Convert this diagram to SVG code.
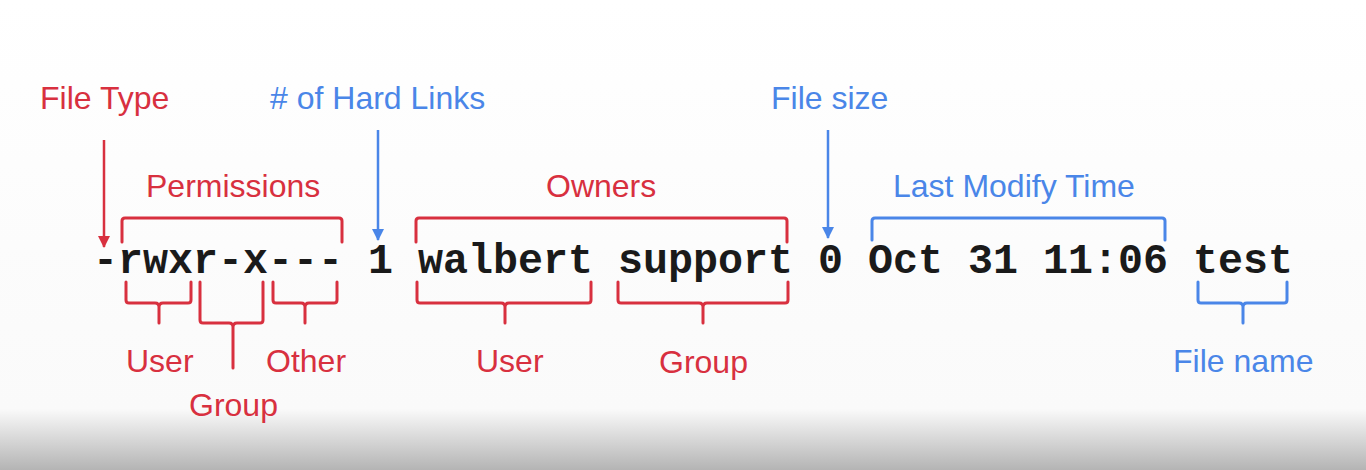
<svg xmlns="http://www.w3.org/2000/svg" width="1366" height="470" viewBox="0 0 1366 470">
  <defs>
    <linearGradient id="bg" x1="0" y1="0" x2="0" y2="470" gradientUnits="userSpaceOnUse">
      <stop offset="0" stop-color="#ffffff"/>
      <stop offset="0.87" stop-color="#fafafa"/>
      <stop offset="1" stop-color="#b4b4b4"/>
    </linearGradient>
    <marker id="arrRed" viewBox="0 0 12 12" refX="11" refY="6" markerWidth="12" markerHeight="12" markerUnits="userSpaceOnUse" orient="auto">
      <path d="M0,0 L12,6 L0,12 Z" fill="#d8303f"/>
    </marker>
    <marker id="arrBlue" viewBox="0 0 12 12" refX="11" refY="6" markerWidth="12" markerHeight="12" markerUnits="userSpaceOnUse" orient="auto">
      <path d="M0,0 L12,6 L0,12 Z" fill="#4a86e8"/>
    </marker>
  </defs>
  <style>
    .lbl { font-family: "Liberation Sans", Arial, sans-serif; font-size: 32px; }
    .red { fill: #d8303f; }
    .blue { fill: #4a86e8; }
    .code { font-family: "Liberation Mono", "Courier New", monospace; font-size: 41.67px; font-weight: bold; fill: #1a1a1a; }
    .br { fill: none; stroke-width: 3; stroke-linejoin: round; stroke-linecap: round; }
    .rs { stroke: #d8303f; }
    .bs { stroke: #4a86e8; }
    .ar { fill: none; stroke-width: 2.5; }
  </style>
  <rect x="0" y="0" width="1366" height="470" fill="url(#bg)"/>

  <g id="listing">
    <text class="code" x="93" y="273" xml:space="preserve">-rwxr-x--- 1 walbert support 0 Oct 31 11:06 test</text>
  </g>

  <g id="file-type"><text class="lbl red" x="40" y="109">File Type</text></g>
  <g id="hard-links"><text class="lbl blue" x="270" y="109"># of Hard Links</text></g>
  <g id="file-size"><text class="lbl blue" x="771" y="109">File size</text></g>
  <g id="permissions"><text class="lbl red" x="146" y="197">Permissions</text></g>
  <g id="owners"><text class="lbl red" x="546" y="197">Owners</text></g>
  <g id="last-modify"><text class="lbl blue" x="893" y="197">Last Modify Time</text></g>
  <g id="perm-user"><text class="lbl red" x="126" y="372">User</text></g>
  <g id="perm-group"><text class="lbl red" x="189" y="416">Group</text></g>
  <g id="perm-other"><text class="lbl red" x="266" y="372">Other</text></g>
  <g id="owner-user"><text class="lbl red" x="476" y="372">User</text></g>
  <g id="owner-group"><text class="lbl red" x="659" y="373">Group</text></g>
  <g id="file-name"><text class="lbl blue" x="1173" y="372">File name</text></g>

  <g id="connectors">
    <line class="ar rs" x1="104" y1="140" x2="104" y2="247" marker-end="url(#arrRed)"/>
    <line class="ar bs" x1="378" y1="130" x2="378" y2="240" marker-end="url(#arrBlue)"/>
    <line class="ar bs" x1="828" y1="130" x2="828" y2="238" marker-end="url(#arrBlue)"/>

    <path class="br rs" d="M122,242 V221 Q122,218 125,218 H339 Q342,218 342,221 V242"/>
    <path class="br rs" d="M416,242 V221 Q416,218 419,218 H784 Q787,218 787,221 V242"/>
    <path class="br bs" d="M872,240 V221 Q872,218 875,218 H1162 Q1165,218 1165,221 V240"/>

    <path class="br rs" d="M126,282 V300 Q126,303 129,303 H155 Q159,303 159,307 V323 M159,307 Q159,303 163,303 H188 Q191,303 191,300 V282"/>
    <path class="br rs" d="M200,282 V320 Q200,323 203,323 H229 Q233,323 233,327 V368 M233,327 Q233,323 237,323 H260 Q263,323 263,320 V282"/>
    <path class="br rs" d="M273,282 V300 Q273,303 276,303 H301 Q305,303 305,307 V323 M305,307 Q305,303 309,303 H334 Q337,303 337,300 V282"/>
    <path class="br rs" d="M417,282 V300 Q417,303 420,303 H501 Q505,303 505,307 V323 M505,307 Q505,303 509,303 H588 Q591,303 591,300 V282"/>
    <path class="br rs" d="M618,282 V300 Q618,303 621,303 H699 Q703,303 703,307 V323 M703,307 Q703,303 707,303 H785 Q788,303 788,300 V282"/>
    <path class="br bs" d="M1198,282 V300 Q1198,303 1201,303 H1239 Q1243,303 1243,307 V323 M1243,307 Q1243,303 1247,303 H1284 Q1287,303 1287,300 V282"/>
  </g>
</svg>
